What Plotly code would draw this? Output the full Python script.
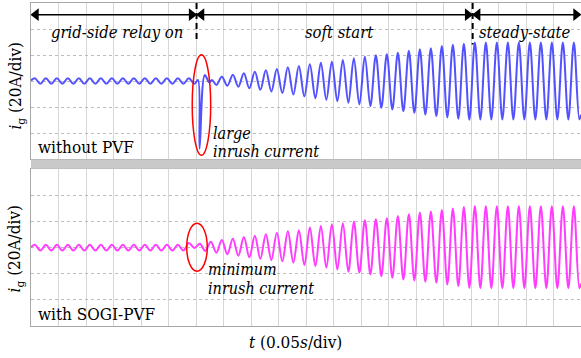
import plotly.graph_objects as go

# half-cycle extremum sampling grid of the 50 Hz current (s)
GRID = [round(0.007 + 0.01 * k, 3) for k in range(100)]

# ---- top panel: without PVF (A) ----
T_TOP = [0.0] + GRID[0:30] + [0.3035, 0.3065, 0.316, 0.324, 0.329, 0.337, 0.347, 0.357] + GRID[36:] + [1.0]
I_TOP = [0.4,
         2.2, -2.2, 2.2, -2.2, 2.2, -2.2, 2.2, -2.2, 2.2, -2.2,
         2.2, -2.2, 2.2, -2.2, 2.2, -2.2, 2.2, -2.2, 2.2, -2.2,
         2.2, -2.2, 2.2, -2.2, 2.2, -2.2, 2.2, -2.2, 2.2, -2.2,
         0.8, -52.0, 4.6, -1.0, 0.8, -3.0, 3.2, -3.6,
         4.9, -4.4, 6.0, -5.6, 7.1, -6.8, 8.3, -8.0, 9.3, -9.2,
         10.5, -10.4, 11.6, -11.8, 12.9, -13.2, 14.1, -14.4, 14.9, -15.6,
         16.2, -16.8, 17.5, -18.0, 18.8, -19.3, 19.8, -20.6, 20.6, -21.9,
         21.8, -23.2, 23.2, -24.5, 24.5, -25.8, 25.2, -27.0, 27.0, -28.0,
         27.8, -29.0, 28.6, -29.8, 29.6, -29.6, 29.6, -29.6, 29.6, -29.6,
         29.6, -29.6, 29.6, -29.6, 29.6, -29.6, 29.6, -29.6, 29.6, -29.6,
         29.6, -29.6, 29.6, -29.6,
         -26.0]

# ---- bottom panel: with SOGI-PVF (A) ----
T_BOT = [0.0] + GRID + [1.0]
I_BOT = [0.4,
         2.2, -2.2, 2.2, -2.2, 2.2, -2.2, 2.2, -2.2, 2.2, -2.2,
         2.2, -2.2, 2.2, -2.2, 2.2, -2.2, 2.2, -2.2, 2.2, -2.2,
         2.2, -2.2, 2.2, -2.2, 2.2, -2.2, 2.2, -2.2,
         3.5, -0.2, 3.0, -2.6, 4.6, -3.8, 5.8, -5.0,
         6.9, -6.2, 8.1, -7.3, 9.2, -8.5, 10.3, -9.5, 11.5, -10.5,
         12.5, -11.5, 13.3, -13.4, 15.4, -14.2, 16.6, -15.4, 17.9, -16.7,
         18.7, -18.5, 20.0, -19.2, 21.0, -20.5, 21.8, -21.8, 22.5, -23.1,
         24.3, -24.4, 25.6, -25.1, 26.9, -26.1, 27.7, -26.9, 28.9, -28.2,
         30.0, -29.5, 31.2, -30.8, 32.0, -31.0, 31.8, -31.0, 31.8, -31.0,
         31.8, -31.0, 31.8, -31.0, 31.8, -31.0, 31.8, -31.0, 31.8, -31.0,
         31.8, -31.0, 31.8, -31.0,
         -27.5]

# phase boundaries (s) and names
BOUNDS = [0.0, 0.301, 0.803, 1.0]
PHASES = ["grid-side relay on", "soft start", "steady-state"]

FONT = "DejaVu Serif Condensed, DejaVu Serif"
FS = 17
ARROW_Y = 51
GAP = 0.004     # arrow tip gap to boundary (s)
HEAD = 0.010    # arrowhead marker offset (s)

fig = go.Figure()
fig.add_trace(go.Scatter(x=T_TOP, y=I_TOP, mode="lines", xaxis="x", yaxis="y",
                         line=dict(color="#5252ff", width=2, shape="spline", smoothing=1),
                         hoverinfo="skip", showlegend=False))
fig.add_trace(go.Scatter(x=T_BOT, y=I_BOT, mode="lines", xaxis="x2", yaxis="y2",
                         line=dict(color="#ff3cff", width=2, shape="spline", smoothing=1),
                         hoverinfo="skip", showlegend=False))

# arrowheads
lx, rx = [], []
for a, b in zip(BOUNDS[:-1], BOUNDS[1:]):
    lx.append(a + GAP + HEAD / 2)
    rx.append(b - GAP - HEAD / 2)
fig.add_trace(go.Scatter(x=lx, y=[ARROW_Y] * len(lx), mode="markers", xaxis="x", yaxis="y",
                         marker=dict(symbol="triangle-left", size=11, color="black",
                                     line=dict(width=0)),
                         hoverinfo="skip", showlegend=False, cliponaxis=False))
fig.add_trace(go.Scatter(x=rx, y=[ARROW_Y] * len(rx), mode="markers", xaxis="x", yaxis="y",
                         marker=dict(symbol="triangle-right", size=11, color="black",
                                     line=dict(width=0)),
                         hoverinfo="skip", showlegend=False, cliponaxis=False))

xc = dict(range=[0, 1.0], dtick=0.05, tick0=0, showgrid=True, gridcolor="#d6d6d6", gridwidth=1,
          showticklabels=False, ticks="", zeroline=False, showline=True, linecolor="#a8a8a8",
          linewidth=1, mirror=True, fixedrange=True)
yc = dict(range=[-60, 60], dtick=20, tick0=0, showgrid=True, gridcolor="#bdbdbd", gridwidth=1,
          griddash="dot", showticklabels=False, ticks="", zeroline=False, showline=True,
          linecolor="#a8a8a8", linewidth=1, mirror=True, fixedrange=True)

fig.update_layout(
    width=581, height=358,
    margin=dict(l=31, r=0, t=3, b=32),
    paper_bgcolor="white", plot_bgcolor="white",
    xaxis=dict(xc, domain=[0, 1], anchor="y"),
    yaxis=dict(yc, domain=[0.517, 1], anchor="x"),
    xaxis2=dict(xc, domain=[0, 1], anchor="y2"),
    yaxis2=dict(yc, domain=[0, 0.485], anchor="x2"),
    font=dict(family=FONT, size=FS, color="black"),
)

shapes = [
    dict(type="rect", xref="paper", yref="paper", x0=0, x1=1, y0=0.4865, y1=0.5155,
         fillcolor="#c9c9c9", line=dict(width=0)),
    dict(type="line", xref="x", yref="y", x0=BOUNDS[1], x1=BOUNDS[1], y0=60, y1=30,
         line=dict(color="black", width=2, dash="6px,4px")),
    dict(type="line", xref="x", yref="y", x0=BOUNDS[2], x1=BOUNDS[2], y0=60, y1=28,
         line=dict(color="black", width=2, dash="6px,4px")),
    dict(type="circle", xref="x", yref="y", x0=0.2931, x1=0.3267, y0=20.1, y1=-57.1,
         line=dict(color="red", width=1.5)),
    dict(type="circle", xref="x2", yref="y2", x0=0.2831, x1=0.3205, y0=18.7, y1=-18.0,
         line=dict(color="red", width=1.5)),
]
for a, b in zip(BOUNDS[:-1], BOUNDS[1:]):
    shapes.append(dict(type="line", xref="x", yref="y", x0=a + GAP + HEAD / 2, x1=b - GAP - HEAD / 2,
                       y0=ARROW_Y, y1=ARROW_Y, line=dict(color="black", width=1.5)))
fig.update_layout(shapes=shapes)


def txt(s, x, y, xref="x", yref="y", xanchor="center", size=FS, **kw):
    d = dict(text=s, x=x, y=y, xref=xref, yref=yref, xanchor=xanchor, yanchor="middle",
             showarrow=False, font=dict(family=FONT, size=size, color="black"))
    d.update(kw)
    return d


ann = [
    txt("<i>%s</i>" % PHASES[0], 0.156, 37, size=16.5),
    txt("<i>%s</i>" % PHASES[1], 0.56, 37, size=16.5),
    txt("<i>%s</i>" % PHASES[2], 0.898, 37, size=16.5),
    txt("without PVF", 0.009, -50.7, xanchor="left"),
    txt("<i>large</i>", 0.327, -40.2, xanchor="left", size=16),
    txt("<i>inrush current</i>", 0.327, -54.6, xanchor="left", size=16),
    txt("with SOGI-PVF", 0.009, -50.9, xref="x2", yref="y2", xanchor="left"),
    txt("<i>minimum</i>", 0.318, -16.8, xref="x2", yref="y2", xanchor="left", size=16),
    txt("<i>inrush current</i>", 0.318, -31.4, xref="x2", yref="y2", xanchor="left", size=16),
    txt("<i>i</i><sub>g</sub> (20A/div)", -0.0264, 0.746, xref="paper", yref="paper", textangle=-90),
    txt("<i>i</i><sub>g</sub> (20A/div)", -0.0264, 0.2415, xref="paper", yref="paper", textangle=-90),
    txt("<i>t</i> (0.05<i>s</i>/div)", 0.4818, -0.0486, xref="paper", yref="paper"),
]
fig.update_layout(annotations=ann)

fig.write_html("out.html")
